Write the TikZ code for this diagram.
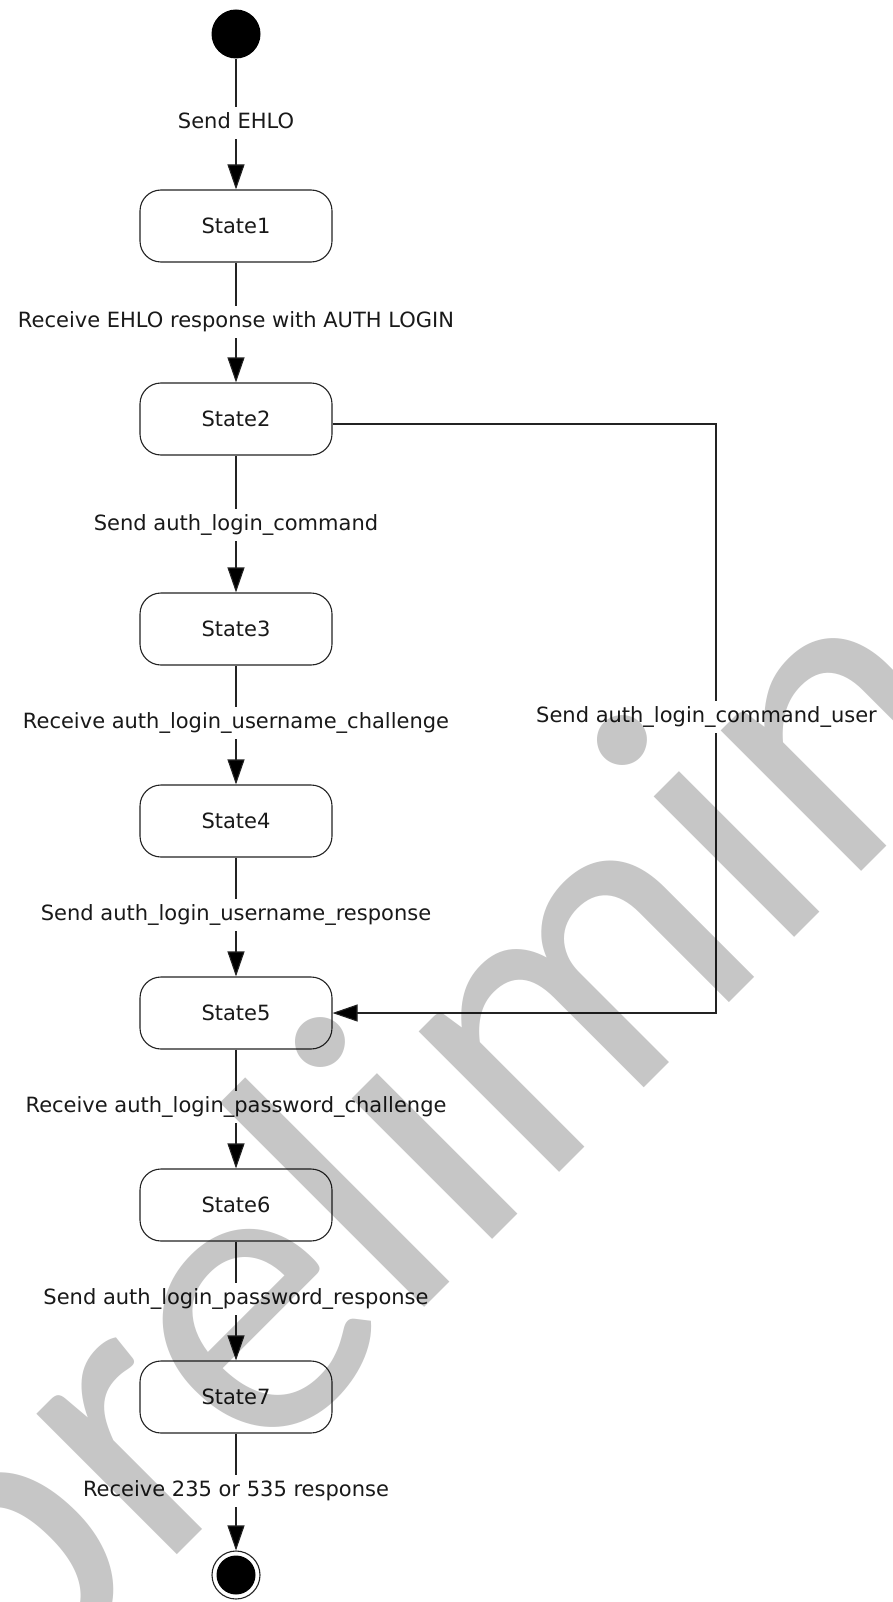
\documentclass[tikz,border=0pt]{standalone}
\usepackage{fontspec}
\setmainfont{DejaVu Sans}
\newfontfamily\wmfont{Carlito}
\usetikzlibrary{arrows.meta}
\definecolor{wm}{RGB}{198,198,198}
\definecolor{ln}{RGB}{35,35,35}
\definecolor{tx}{RGB}{25,25,25}
\begin{document}
\begin{tikzpicture}[x=1pt,y=-1pt,
  every node/.style={font=\fontsize{21}{25}\selectfont, text=tx},
  statebox/.style={draw=ln, line width=1.1pt, rectangle, rounded corners=21pt,
    minimum width=192pt, minimum height=72pt, inner sep=0pt},
  lbl/.style={fill=white, inner xsep=3pt, inner ysep=5.5pt, text height=16pt, text depth=5pt},
  arr/.style={draw=ln, line width=1.1pt, -{Triangle[length=25pt,width=17pt,fill=black]}},
]
\useasboundingbox (0,0) rectangle (892,1602);
\fill[white] (0,0) rectangle (892,1602);

\node[circle, fill=black, minimum size=49pt, inner sep=0pt] (init) at (236,34) {};
\node[statebox] (s1) at (236,226) {State1};
\node[statebox] (s2) at (236,419) {State2};
\node[statebox] (s3) at (236,629) {State3};
\node[statebox] (s4) at (236,821) {State4};
\node[statebox] (s5) at (236,1013) {State5};
\node[statebox] (s6) at (236,1205) {State6};
\node[statebox] (s7) at (236,1397) {State7};
\node[circle, draw=ln, line width=1.1pt, minimum size=48pt, inner sep=0pt] (fin) at (236,1575) {};
\fill[black] (fin.center) circle[radius=19.5pt];

\draw[arr] (init) -- (s1);
\draw[arr] (s1) -- (s2);
\draw[arr] (s2) -- (s3);
\draw[arr] (s3) -- (s4);
\draw[arr] (s4) -- (s5);
\draw[arr] (s5) -- (s6);
\draw[arr] (s6) -- (s7);
\draw[arr] (s7) -- (fin);

\coordinate (c1) at (716,424);
\coordinate (c2) at (716,1013);
\draw[arr] ([yshift=-5pt]s2.east) -- (c1) -- (c2) -- (s5.east);

\node[lbl] (l1) at (236,123) {Send EHLO};
\node[lbl] (l2) at (236,322) {Receive EHLO response with AUTH LOGIN};
\node[lbl] (l3) at (236,525) {Send auth\_login\_command};
\node[lbl] (l4) at (236,723) {Receive auth\_login\_username\_challenge};
\node[lbl] (l5) at (236,915) {Send auth\_login\_username\_response};
\node[lbl] (l6) at (236,1107) {Receive auth\_login\_password\_challenge};
\node[lbl] (l7) at (236,1299) {Send auth\_login\_password\_response};
\node[lbl] (l8) at (236,1491) {Receive 235 or 535 response};
\node[lbl, anchor=west] (lr) at (533,717) {Send auth\_login\_command\_user};

\begin{scope}[blend mode=multiply]
\node[rotate=45, anchor=base west, inner sep=0pt, text=wm,
  font=\wmfont\fontsize{416}{416}\selectfont] (wmk) at (4,1728) {preliminary};
\end{scope}
\end{tikzpicture}
\end{document}
